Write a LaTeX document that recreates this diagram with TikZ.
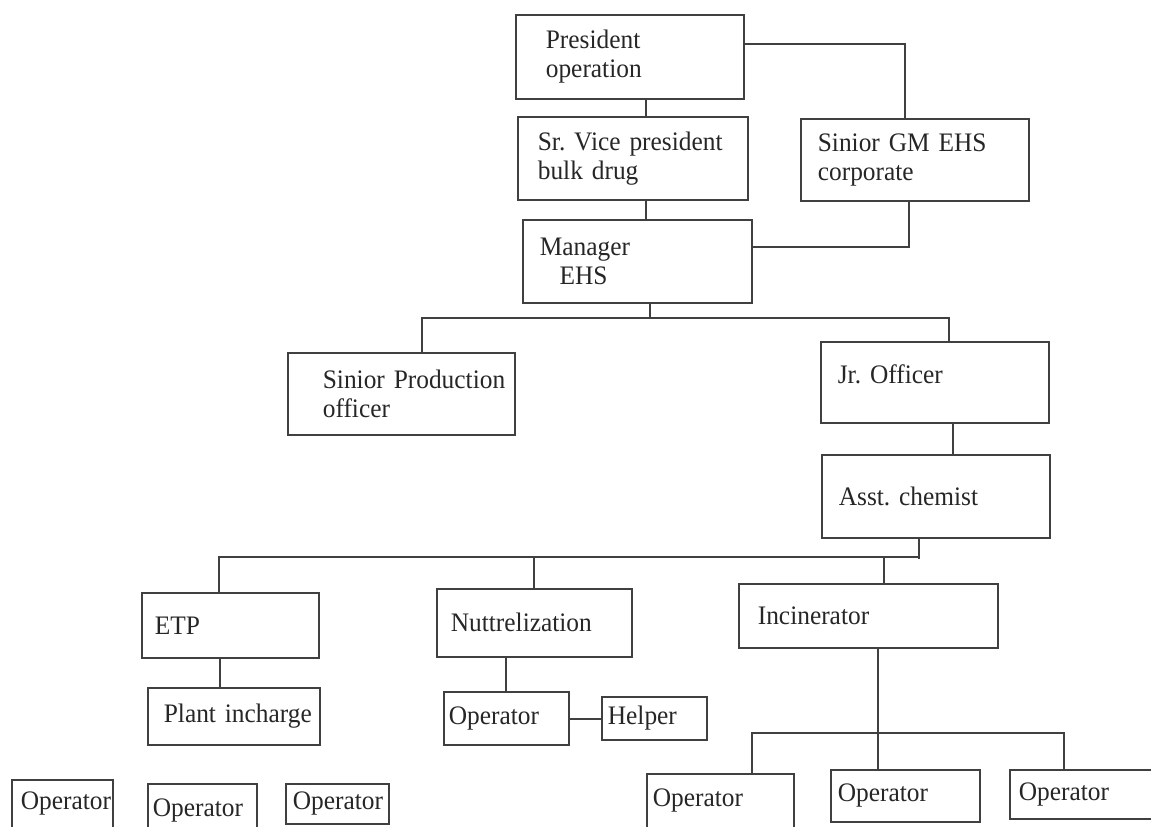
\documentclass[tikz,border=0pt]{standalone}
\usepackage{fontspec}
\setmainfont{Liberation Serif}[FakeStretch=0.95]
\usepackage{tikz}

\newcommand{\pxu}{0.025cm}

\tikzset{
  % one box of the chart: width, height, left padding (all in pixels)
  box/.style n args={3}{draw=black!75, line width=1.2pt, rectangle,
    anchor=north west, align=left, text=black!85,
    font=\fontsize{19}{20.5}\selectfont,
    execute at begin node={\hyphenpenalty=10000\frenchspacing},
    inner ysep=0pt, inner xsep=#3*\pxu,
    minimum width=#1*\pxu, minimum height=#2*\pxu,
    text width=#1*\pxu-2*#3*\pxu},
  link/.style={draw=black!75, line width=1.2pt}
}

\begin{document}
\begin{tikzpicture}[x=0.025cm, y=-0.025cm]
  \clip (0,0) rectangle (1151,827);

  % top of the chart
  \node[box={228}{84}{30}] (pres) at (515,14) {President\\operation};
  \node[box={230}{83}{20}] (vp) at (517,116) {Sr.~Vice~president\\bulk drug};
  \node[box={228}{82}{17}] (gm) at (800,118) {Sinior~GM~EHS\\corporate};
  \node[box={229}{83}{17}] (mgr) at (522,219) {Manager\\\hspace*{14pt}EHS};

  % second level
  \node[box={227}{82}{35}] (spo) at (287,352) {Sinior~Production\\officer};
  \node[box={228}{81}{17}] (jr) at (820,341) {Jr.~Officer\\[-9pt]\mbox{}};
  \node[box={228}{83}{17}] (asst) at (821,454) {Asst.~chemist};

  % sections
  \node[box={177}{65}{13}] (etp) at (141,592) {ETP};
  \node[box={195}{68}{14}] (nut) at (436,588) {Nuttrelization};
  \node[box={259}{64}{19}] (inc) at (738,583) {Incinerator};

  % staff
  \node[box={172}{57}{16}] (plant) at (147,687) {Plant~incharge};
  \node[box={125}{53}{5}] (opn) at (443,691) {Operator};
  \node[box={105}{43}{6}] (help) at (601,696) {Helper};
  \node[box={147}{54}{6}] (opa) at (646,773) {Operator};
  \node[box={149}{52}{7}] (opb) at (830,769) {Operator};
  \node[box={160}{49}{9}] (opc) at (1009,769) {Operator};
  \node[box={101}{48}{9}] (opx) at (11,779) {Operator};
  \node[box={109}{54}{5}] (opy) at (147,783) {Operator};
  \node[box={103}{40}{7}] (opz) at (285,783) {Operator};

  % connectors
  \draw[link] (646,0 |- pres.south) -- (646,0 |- vp.north);
  \draw[link] (pres.east |- 0,44) -| (905,0 |- gm.north);
  \draw[link] (646,0 |- vp.south) -- (646,0 |- mgr.north);
  \draw[link] (909,0 |- gm.south) |- (mgr.east |- 0,247);
  \draw[link] (650,0 |- mgr.south) -- (650,318);
  \draw[link] (422,0 |- spo.north) |- (949,318) -- (949,0 |- jr.north);
  \draw[link] (953,0 |- jr.south) -- (953,0 |- asst.north);
  \draw[link] (919,0 |- asst.south) -- (919,559);
  \draw[link] (219,0 |- etp.north) |- (919,557);
  \draw[link] (534,557) -- (534,0 |- nut.north);
  \draw[link] (884,557) -- (884,0 |- inc.north);
  \draw[link] (220,0 |- etp.south) -- (220,0 |- plant.north);
  \draw[link] (506,0 |- nut.south) -- (506,0 |- opn.north);
  \draw[link] (opn.east |- 0,719) -- (help.west |- 0,719);
  \draw[link] (878,0 |- inc.south) -- (878,0 |- opb.north);
  \draw[link] (752,0 |- opa.north) |- (1064,733) -- (1064,0 |- opc.north);
\end{tikzpicture}
\end{document}
